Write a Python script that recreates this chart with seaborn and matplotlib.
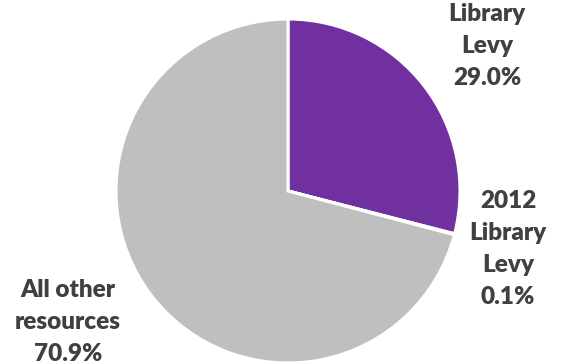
import matplotlib
matplotlib.use("Agg")
import matplotlib.pyplot as plt
import seaborn as sns

categories = ["Library\nLevy", "2012\nLibrary\nLevy", "All other\nresources"]
values = [29.0, 0.1, 70.9]
colors = ["#7030A0", "#FFFFFF", "#BFBFBF"]
label_pos = [(487, 364 - 46), (508, 364 - 249), (68, 364 - 322)]

sns.set_theme(style="white")
plt.rcParams["font.family"] = ["Lato", "DejaVu Sans"]

fig = plt.figure(figsize=(5.64, 3.64), dpi=100)
ax = fig.add_axes([0, 0, 1, 1])

ax.pie(values, colors=colors, startangle=90, counterclock=False,
       center=(288, 364 - 191), radius=172, frame=True,
       wedgeprops=dict(edgecolor="white", linewidth=2.2))
ax.set_xlim(0, 564)
ax.set_ylim(0, 364)
ax.set_aspect("equal")
ax.axis("off")

for cat, v, (x, y) in zip(categories, values, label_pos):
    ax.text(x, y, f"{cat}\n{v:.1f}%", ha="center", va="center",
            fontsize=17.5, fontweight="heavy", color="#404040",
            linespacing=1.55)

fig.savefig("out.png", dpi=100)
